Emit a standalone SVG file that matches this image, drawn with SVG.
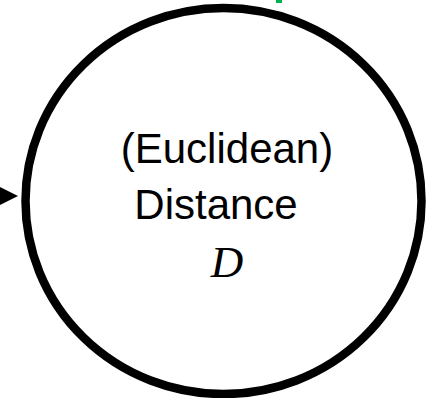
<svg xmlns="http://www.w3.org/2000/svg" width="429" height="398" viewBox="0 0 429 398">
<style>
.lbl{font-family:"Liberation Sans",Arial,sans-serif;font-size:42px;fill:#000;text-anchor:middle}
.math{font-family:"Liberation Serif","Times New Roman",serif;font-style:italic;font-size:45px;fill:#000;text-anchor:middle}
</style>
<rect width="429" height="398" fill="#fff"/>
<g id="connectors">
<polygon points="0,187 18,196 0,205" fill="#000"/>
<rect x="276" y="0" width="6" height="3" fill="#00B050"/>
</g>
<g id="node-distance">
<ellipse cx="223.5" cy="201" rx="198" ry="193" fill="none" stroke="#000" stroke-width="8.5"/>
<text class="lbl" x="227" y="163">(Euclidean)</text>
<text class="lbl" x="216" y="219">Distance</text>
<text class="math" x="227" y="277">D</text>
</g>
</svg>
